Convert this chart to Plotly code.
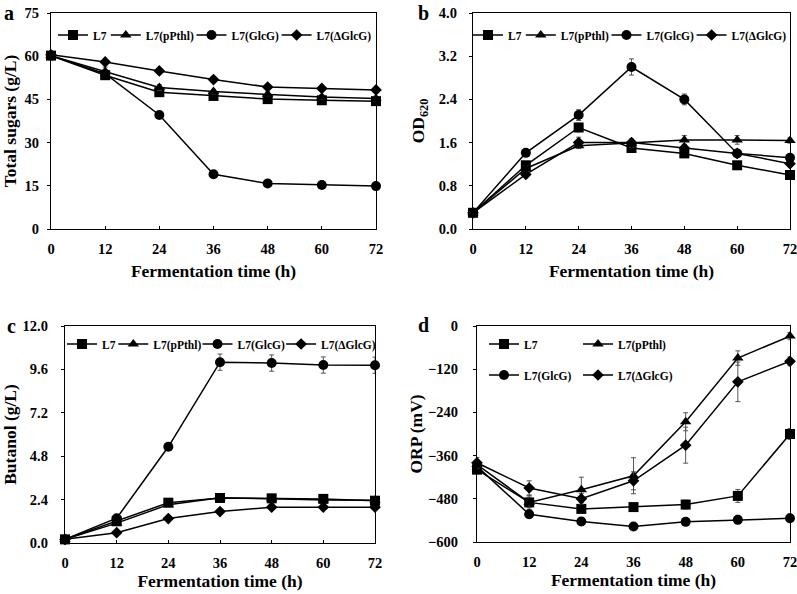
import plotly.graph_objects as go

hours = [0, 12, 24, 36, 48, 60, 72]
strains = ["L7", "L7(pPthl)", "L7(GlcG)", "L7(ΔGlcG)"]
symbols = ["square", "triangle-up", "circle", "diamond"]
msizes = [10, 10, 10, 9]

# Panel a: total sugars (g/L)
sugar_L7 = [60.2, 53.4, 47.5, 46.2, 45.1, 44.7, 44.4]
sugar_pPthl = [60.2, 54.7, 49.1, 47.7, 46.8, 45.8, 45.3]
sugar_GlcG = [60.2, 53.9, 39.6, 19.0, 15.8, 15.3, 14.9]
sugar_dGlcG = [60.5, 58.0, 54.9, 51.9, 49.3, 48.8, 48.3]
sugar_err_L7 = [0.6, 0.8, 0.8, 0.7, 0.7, 0.7, 0.7]
sugar_err_pPthl = [0.6, 1.5, 1.0, 0.8, 0.8, 0.8, 0.8]
sugar_err_GlcG = [0.6, 0.8, 0.8, 0.6, 0.5, 0.5, 0.5]
sugar_err_dGlcG = [0.6, 0.7, 0.7, 0.7, 0.7, 0.7, 0.7]

# Panel b: OD620
od_L7 = [0.3, 1.18, 1.88, 1.50, 1.40, 1.18, 1.00]
od_pPthl = [0.3, 1.12, 1.54, 1.59, 1.65, 1.65, 1.64]
od_GlcG = [0.3, 1.41, 2.11, 3.00, 2.40, 1.40, 1.32]
od_dGlcG = [0.3, 1.01, 1.60, 1.60, 1.50, 1.40, 1.21]
od_err_L7 = [0.02, 0.05, 0.08, 0.05, 0.05, 0.04, 0.04]
od_err_pPthl = [0.02, 0.05, 0.05, 0.08, 0.08, 0.08, 0.05]
od_err_GlcG = [0.02, 0.05, 0.10, 0.15, 0.10, 0.05, 0.05]
od_err_dGlcG = [0.02, 0.04, 0.10, 0.05, 0.05, 0.05, 0.05]

# Panel c: butanol (g/L)
but_L7 = [0.2, 1.2, 2.23, 2.49, 2.47, 2.44, 2.34]
but_pPthl = [0.2, 1.1, 2.12, 2.50, 2.45, 2.38, 2.36]
but_GlcG = [0.2, 1.37, 5.32, 10.0, 9.95, 9.84, 9.83]
but_dGlcG = [0.2, 0.57, 1.35, 1.74, 1.98, 1.98, 1.98]
but_err_L7 = [0.05, 0.08, 0.08, 0.08, 0.08, 0.08, 0.08]
but_err_pPthl = [0.05, 0.08, 0.08, 0.08, 0.08, 0.08, 0.08]
but_err_GlcG = [0.05, 0.10, 0.20, 0.45, 0.45, 0.45, 0.45]
but_err_dGlcG = [0.05, 0.05, 0.06, 0.06, 0.06, 0.06, 0.06]

# Panel d: ORP (mV)
orp_L7 = [-399, -490, -508, -503, -496, -472, -300]
orp_pPthl = [-385, -490, -455, -416, -266, -89, -28]
orp_GlcG = [-390, -523, -543, -557, -544, -538, -534]
orp_dGlcG = [-380, -450, -480, -430, -331, -155, -98]
orp_err_L7 = [10, 15, 10, 10, 12, 18, 15]
orp_err_pPthl = [10, 20, 35, 50, 25, 20, 10]
orp_err_GlcG = [10, 10, 10, 8, 10, 12, 12]
orp_err_dGlcG = [15, 20, 15, 25, 50, 55, 12]

panels = [
    ([sugar_L7, sugar_pPthl, sugar_GlcG, sugar_dGlcG],
     [sugar_err_L7, sugar_err_pPthl, sugar_err_GlcG, sugar_err_dGlcG]),
    ([od_L7, od_pPthl, od_GlcG, od_dGlcG],
     [od_err_L7, od_err_pPthl, od_err_GlcG, od_err_dGlcG]),
    ([but_L7, but_pPthl, but_GlcG, but_dGlcG],
     [but_err_L7, but_err_pPthl, but_err_GlcG, but_err_dGlcG]),
    ([orp_L7, orp_pPthl, orp_GlcG, orp_dGlcG],
     [orp_err_L7, orp_err_pPthl, orp_err_GlcG, orp_err_dGlcG]),
]

W, H = 797, 594
FONT = "Times New Roman, Liberation Serif, serif"


def px_x(v):
    return v / W


def px_y(v):
    return 1 - v / H


def leg_id(n):
    return "legend" if n == 1 else f"legend{n}"


fig = go.Figure()

for p, (series, errs) in enumerate(panels):
    ax = "" if p == 0 else str(p + 1)
    for i in range(4):
        fig.add_trace(go.Scatter(
            x=hours, y=series[i], name=strains[i], mode="lines+markers",
            line=dict(color="black", width=1.5),
            marker=dict(symbol=symbols[i], size=msizes[i], color="black"),
            error_y=dict(type="data", array=errs[i], color="#444444",
                         thickness=0.9, width=2.5),
            xaxis="x" + ax, yaxis="y" + ax, legend=leg_id(p * 4 + i + 1),
            cliponaxis=False,
        ))

# plot boxes in pixels: left, right, top, bottom
boxes = [
    (51, 376, 13, 229),
    (473, 790, 13, 229),
    (65, 375, 326, 543),
    (477, 790, 326, 542),
]
yranges = [[0, 75], [0, 4.0], [0, 12.0], [-600, 0]]
ydticks = [15, 0.8, 2.4, 120]
yfmts = ["d", ".1f", ".1f", "d"]
ytitles = ["Total sugars (g/L)", "OD<sub>620</sub>", "Butanol (g/L)", "ORP (mV)"]
ylab_standoff = [5, 9, 10, 12]
ytitle_standoff = [4, 9, 6, 0]
xtitle_standoff = [9, 9, 4, 4]

tickfont = dict(family=FONT, size=14.5, color="black", weight="bold")
titlefont = dict(family=FONT, size=17.5, color="black", weight="bold")

for p in range(4):
    x0, x1, y0, y1 = boxes[p]
    sfx = "" if p == 0 else str(p + 1)
    xa = dict(
        domain=[px_x(x0), px_x(x1)], range=[0, 72], tickvals=hours,
        anchor="y" + sfx, showline=True, linecolor="black", linewidth=1.3,
        mirror=True, ticks="inside" if p < 3 else "", ticklen=3,
        tickcolor="black", showgrid=False, zeroline=False,
        tickfont=tickfont, ticklabelstandoff=6, ticklabeloverflow="allow",
        title=dict(text="Fermentation time (h)", font=titlefont,
                   standoff=xtitle_standoff[p]),
    )
    ya = dict(
        domain=[px_y(y1), px_y(y0)], range=yranges[p], dtick=ydticks[p],
        tick0=yranges[p][0], tickformat=yfmts[p],
        anchor="x" + sfx, showline=True, linecolor="black", linewidth=1.3,
        mirror=True, ticks="outside", ticklen=3, tickcolor="black",
        showgrid=False, zeroline=False, tickfont=tickfont,
        ticklabelstandoff=ylab_standoff[p], ticklabeloverflow="allow",
        title=dict(text=ytitles[p], font=titlefont,
                   standoff=ytitle_standoff[p]),
    )
    fig.update_layout({"xaxis" + sfx: xa, "yaxis" + sfx: ya})

# top tick marks for panel d (category axis crosses at the top)
fig.update_layout(xaxis5=dict(
    domain=[px_x(477), px_x(790)], range=[0, 72], tickvals=hours,
    overlaying="x4", anchor="y4", side="top", ticks="inside", ticklen=3,
    tickcolor="black", showticklabels=False, showgrid=False,
    zeroline=False, showline=False,
))

# one legend per entry so the entries can be packed like the original
legfont = dict(family=FONT, size=11.5, color="black", weight="bold")
leg_pos = [
    [(53, 35), (105.8, 35), (191.5, 35), (276.6, 35)],
    [(468, 35), (520.8, 35), (606.5, 35), (691.6, 35)],
    [(62, 344), (113.3, 344), (197.5, 344), (281.1, 344)],
    [(484, 344), (578, 344), (484, 375), (578, 375)],
]
legends = {}
for p in range(4):
    for i in range(4):
        lx, ly = leg_pos[p][i]
        legends[leg_id(p * 4 + i + 1)] = dict(
            orientation="h", font=legfont, bgcolor="rgba(0,0,0,0)",
            xanchor="left", yanchor="middle", itemwidth=30,
            x=px_x(lx), y=px_y(ly), borderwidth=0,
        )
fig.update_layout(**legends)

letters = [("a", 9, 13), ("b", 424, 13), ("c", 11, 326), ("d", 424, 325)]
for t, lx, ly in letters:
    fig.add_annotation(text=t, x=px_x(lx), y=px_y(ly), xref="paper",
                       yref="paper", showarrow=False, xanchor="center",
                       yanchor="middle",
                       font=dict(family=FONT, size=20, color="black",
                                 weight="bold"))

fig.update_layout(
    width=W, height=H,
    margin=dict(l=0, r=0, t=0, b=0, autoexpand=False),
    paper_bgcolor="white", plot_bgcolor="white", showlegend=True,
)

# drop the page's default 8px body margin so the figure fills the window
fig.write_html("out.html", config={"displayModeBar": False},
               post_script="document.body.style.margin='0px';")
